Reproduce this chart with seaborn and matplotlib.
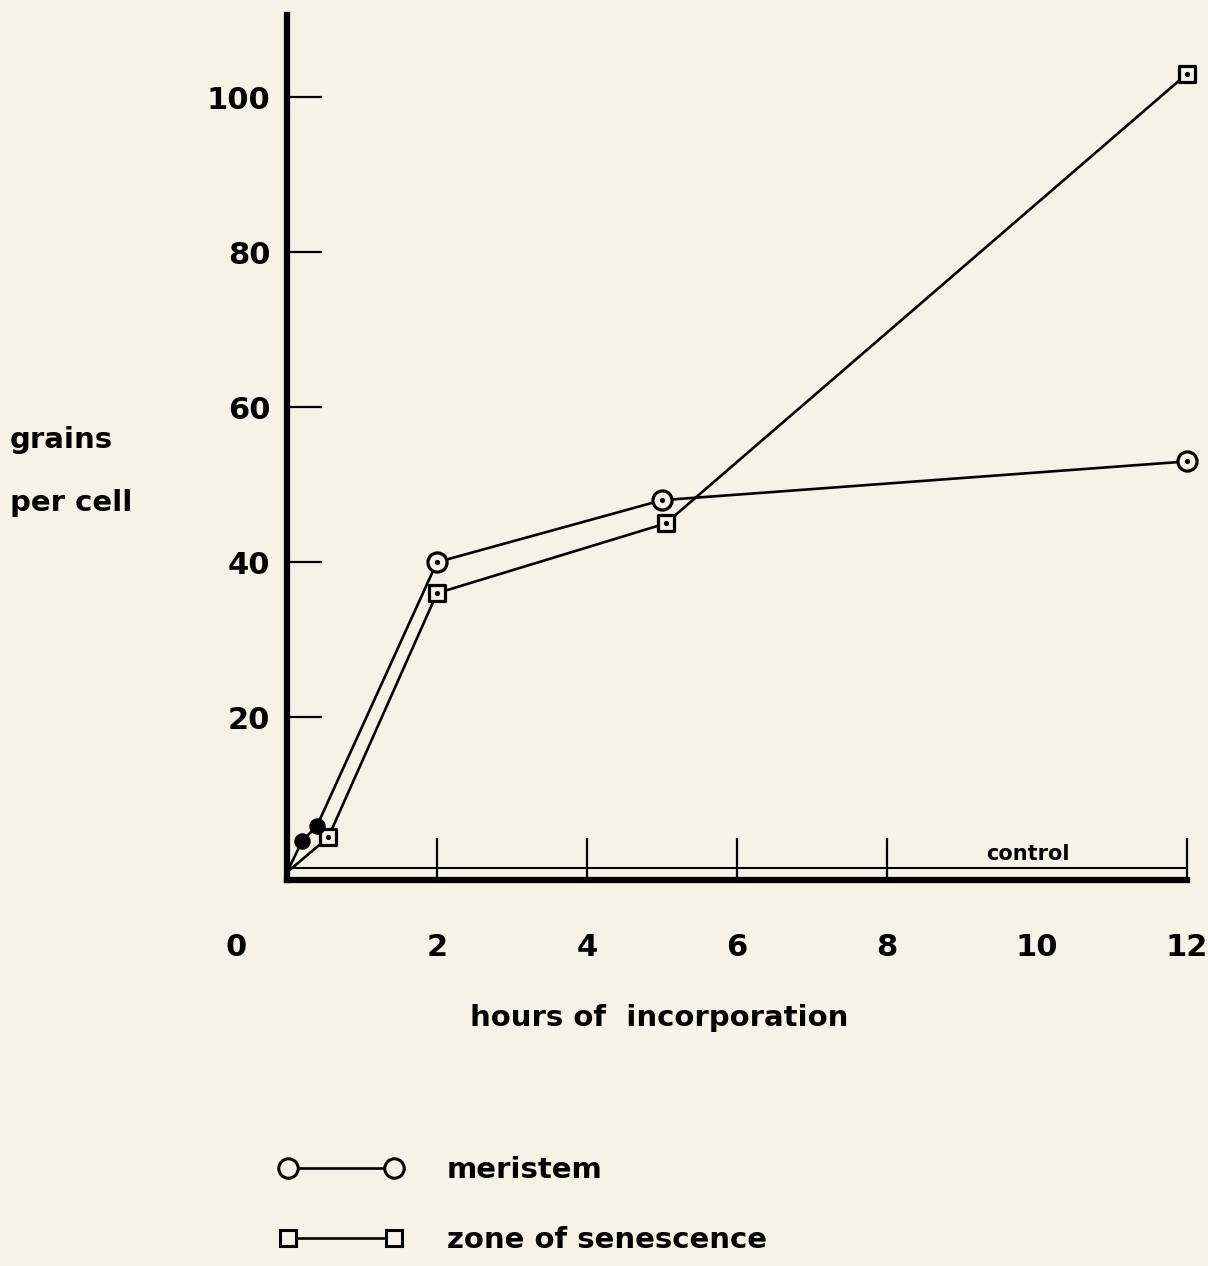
import matplotlib
matplotlib.use("Agg")
import matplotlib.pyplot as plt
from matplotlib.lines import Line2D
import pandas as pd
import seaborn as sns

# values
meristem_hours = [0, 0.2, 0.4, 2.0, 5.0, 12.0]
meristem_grains = [0, 4, 6, 40, 48, 53]
senescence_hours = [0, 0.55, 2.0, 5.05, 12.0]
senescence_grains = [0, 4.5, 36, 45, 103]
control_hours = [0, 12]
control_grains = [0.6, 0.6]

x_ticks = [0, 2, 4, 6, 8, 10, 12]
y_ticks = [20, 40, 60, 80, 100]

mer = pd.DataFrame({"hours": meristem_hours, "grains": meristem_grains, "zone": "meristem"})
sen = pd.DataFrame({"hours": senescence_hours, "grains": senescence_grains, "zone": "zone of senescence"})
ctl = pd.DataFrame({"hours": control_hours, "grains": control_grains, "zone": "control"})
df = pd.concat([mer, sen], ignore_index=True)

sns.set_style("ticks")
plt.rcParams["font.family"] = ["DejaVu Sans"]
plt.rcParams["text.color"] = "black"
plt.rcParams["xtick.color"] = "black"
plt.rcParams["ytick.color"] = "black"
plt.rcParams["axes.edgecolor"] = "black"
bg = "#f6f3e6"

fig = plt.figure(figsize=(12.08, 12.66), dpi=100, facecolor=bg)
ax = fig.add_axes([0.2376, 0.3049, 0.745, 0.6833])
ax.set_facecolor(bg)

# connecting lines (start at origin, no marker there)
sns.lineplot(data=df, x="hours", y="grains", hue="zone", units="zone", estimator=None,
             sort=False, palette={"meristem": "black", "zone of senescence": "black"},
             linewidth=1.9, legend=False, ax=ax)
sns.lineplot(data=ctl, x="hours", y="grains", color="black", linewidth=1.5,
             estimator=None, sort=False, legend=False, ax=ax)

pts = df[df["hours"] > 0]
filled = pts[(pts["zone"] == "meristem") & (pts["hours"] < 1)]
hollow = pts.drop(filled.index)
circles = hollow[hollow["zone"] == "meristem"]
squares = hollow[hollow["zone"] == "zone of senescence"]

sns.scatterplot(data=circles, x="hours", y="grains", marker="o",
                color=bg, edgecolor="black", linewidth=2.3, s=190,
                legend=False, zorder=5, clip_on=False, ax=ax)
sns.scatterplot(data=squares, x="hours", y="grains", marker="s",
                color=bg, edgecolor="black", linewidth=2.3, s=125,
                legend=False, zorder=5, clip_on=False, ax=ax)
sns.scatterplot(data=hollow, x="hours", y="grains", color="black", s=14,
                linewidth=0, legend=False, zorder=6, clip_on=False, ax=ax)
sns.scatterplot(data=filled, x="hours", y="grains", color="black", s=140,
                linewidth=0, legend=False, zorder=5, ax=ax)

ax.set_xlim(0, 12)
ax.set_ylim(-1.0, 110.6)
sns.despine(ax=ax)
for side in ["left", "bottom"]:
    ax.spines[side].set_linewidth(4.5)
    ax.spines[side].set_zorder(7)

ax.set_yticks(y_ticks)
ax.set_yticklabels([str(v) for v in y_ticks])
ax.tick_params(axis="y", direction="in", length=25, width=1.6, pad=12, labelsize=22)

ax.set_xticks(x_ticks)
ax.set_xticklabels([str(v) for v in x_ticks])
ax.tick_params(axis="x", direction="in", length=30, width=1.6, pad=38, labelsize=22)
for t in ax.xaxis.get_major_ticks():
    if t.get_loc() in (0, 10):
        t.tick1line.set_visible(False)
    if t.get_loc() == 0:
        t.label1.set_visible(False)
for lab in ax.get_xticklabels() + ax.get_yticklabels():
    lab.set_fontweight("bold")

ax.annotate("0", xy=(-0.68, 0), xycoords=("data", "axes fraction"), xytext=(0, -38),
            textcoords="offset points", ha="center", va="top", fontsize=22,
            fontweight="bold", annotation_clip=False)
ax.text(9.88, 1.0, "control", ha="center", va="bottom", fontsize=15, fontweight="bold")

ax.set_xlabel("")
ax.set_ylabel("")
fig.text(659 / 1208, 1 - 1018 / 1266, "hours of  incorporation", ha="center", va="center",
         fontsize=21, fontweight="bold")
fig.text(10 / 1208, 1 - 440 / 1266, "grains", ha="left", va="center", fontsize=21, fontweight="bold")
fig.text(10 / 1208, 1 - 503 / 1266, "per cell", ha="left", va="center", fontsize=21, fontweight="bold")

handles = [
    Line2D([], [], color="black", linewidth=1.9, marker="o", markersize=14,
           markerfacecolor=bg, markeredgecolor="black", markeredgewidth=2.2),
    Line2D([], [], color="black", linewidth=1.9, marker="s", markersize=11,
           markerfacecolor=bg, markeredgecolor="black", markeredgewidth=2.2),
]
fig.legend(handles, ["meristem", "zone of senescence"], loc="upper left",
           bbox_to_anchor=(0.231, 0.087), bbox_transform=fig.transFigure,
           frameon=False, numpoints=2, handlelength=4.25, handletextpad=1.5,
           labelspacing=1.45, borderpad=0, borderaxespad=0,
           prop={"size": 21, "weight": "bold"})

fig.savefig("out.png", dpi=100, facecolor=bg)
